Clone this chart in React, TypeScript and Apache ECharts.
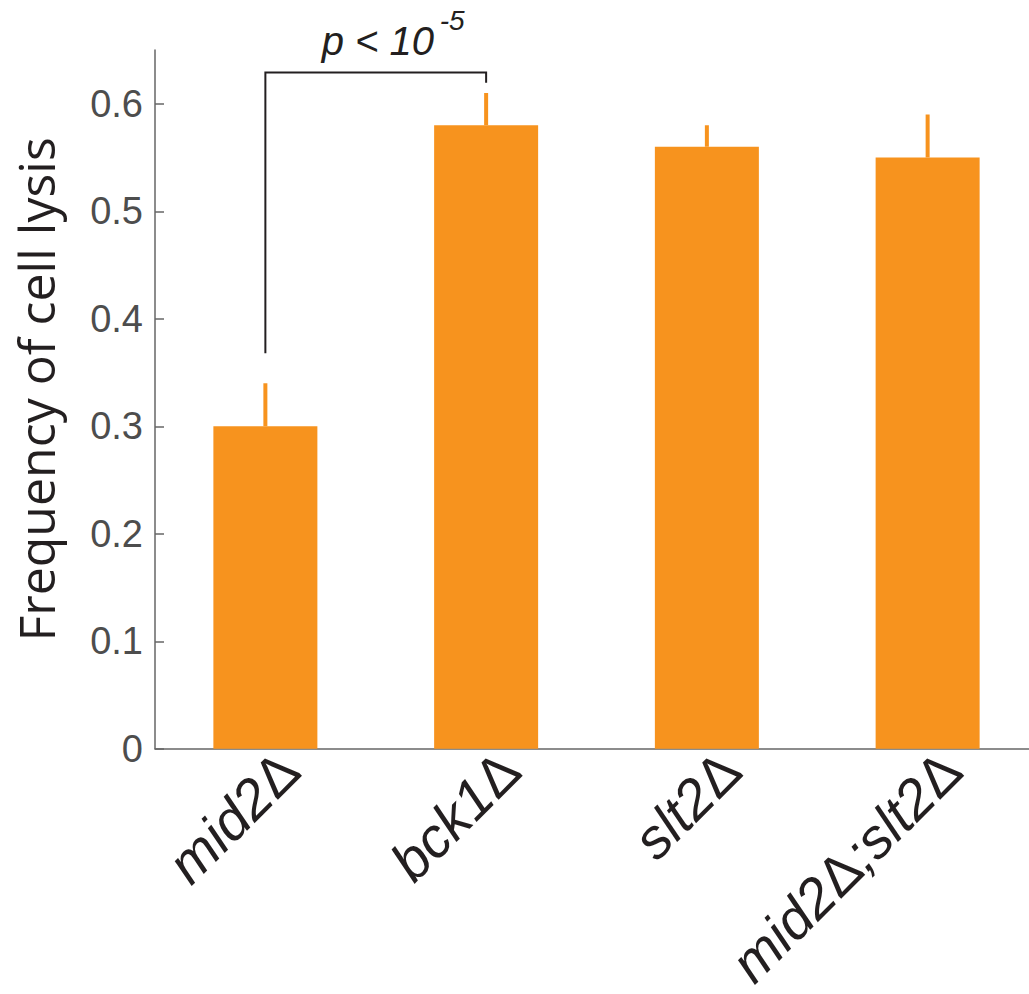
import React, { useEffect, useRef } from "react";
import * as echarts from "echarts";

const categories = ["mid2Δ", "bck1Δ", "slt2Δ", "mid2Δ;slt2Δ"];
const frequency = [0.30, 0.58, 0.56, 0.55];
const errorTop = [0.34, 0.61, 0.58, 0.59];
const yTicks = [0, 0.1, 0.2, 0.3, 0.4, 0.5, 0.6];
// bracket: [fromIndex, toIndex, leftLegBottom, top, rightLegBottom]
const bracket = [0, 1, 0.368, 0.629, 0.6195];
const pLabel = "p < 10";
const pExponent = "-5";

const ORANGE = "#F7931E";
const AXIS_GRAY = "#666666";
const INK = "#231f20";

const richLabel = (value: string) =>
  value
    .split(/(Δ)/)
    .filter((s) => s.length > 0)
    .map((s) => (s === "Δ" ? `{u|Δ}` : `{i|${s}}`))
    .join("");

export default function App() {
  const ref = useRef<HTMLDivElement>(null);
  useEffect(() => {
    if (!ref.current) return;
    const chart = echarts.init(ref.current, null, { renderer: "svg" });
    const labelFont = {
      fontSize: 56,
      fontFamily: "Liberation Sans",
      color: INK,
    };
    chart.setOption({
      animation: false,
      backgroundColor: "#ffffff",
      grid: { left: 155, right: 0, top: 50, bottom: 245, containLabel: false },
      xAxis: {
        type: "category",
        data: categories,
        axisLine: { show: true, lineStyle: { color: AXIS_GRAY, width: 1.5 } },
        axisTick: { show: false },
        axisLabel: {
          rotate: 45,
          margin: 36,
          interval: 0,
          padding: [0, -34, 0, 0],
          formatter: (v: string) => richLabel(v),
          rich: {
            i: { ...labelFont, fontStyle: "italic" },
            u: { ...labelFont, fontStyle: "normal" },
          },
        },
      },
      yAxis: {
        type: "value",
        min: 0,
        max: 0.65,
        interval: 0.1,
        splitLine: { show: false },
        axisLine: { show: true, lineStyle: { color: AXIS_GRAY, width: 1.5 } },
        axisTick: {
          show: true,
          inside: true,
          length: 9,
          customValues: yTicks,
          lineStyle: { color: AXIS_GRAY, width: 1.5 },
        },
        axisLabel: {
          customValues: yTicks,
          margin: 12,
          fontSize: 38,
          fontFamily: "Liberation Sans",
          color: "#4d4d4d",
          formatter: (v: number) => (v === 0 ? "0" : v.toFixed(1)),
        },
        name: "Frequency of cell lysis",
        nameLocation: "middle",
        nameRotate: 90,
        nameGap: 94,
        nameTextStyle: {
          fontSize: 50,
          fontFamily: "Open Sans",
          color: INK,
          padding: [0, 0, 0, 20],
        },
      },
      series: [
        {
          type: "bar",
          data: frequency,
          barWidth: 104,
          itemStyle: { color: ORANGE },
          z: 2,
        },
        {
          type: "custom",
          data: frequency.map((v, i) => [i, v, errorTop[i]]),
          encode: { x: 0, y: [1, 2] },
          z: 3,
          renderItem: (params: any, api: any) => {
            const p0 = api.coord([api.value(0), api.value(1)]);
            const p1 = api.coord([api.value(0), api.value(2)]);
            return {
              type: "line",
              shape: { x1: p0[0], y1: p0[1], x2: p1[0], y2: p1[1] },
              style: { stroke: ORANGE, lineWidth: 4 },
            };
          },
        },
        {
          type: "custom",
          data: [bracket],
          encode: { x: [0, 1], y: [2, 3, 4] },
          z: 4,
          renderItem: (params: any, api: any) => {
            const a = api.coord([api.value(0), api.value(2)]);
            const b = api.coord([api.value(0), api.value(3)]);
            const c = api.coord([api.value(1), api.value(3)]);
            const d = api.coord([api.value(1), api.value(4)]);
            const mid = (b[0] + c[0]) / 2;
            return {
              type: "group",
              children: [
                {
                  type: "polyline",
                  shape: { points: [a, b, c, d] },
                  style: { stroke: INK, lineWidth: 2, fill: "none" },
                },
                {
                  type: "text",
                  x: mid - 54,
                  y: b[1] - 12,
                  style: {
                    text: pLabel,
                    fontSize: 40,
                    fontStyle: "italic",
                    fontFamily: "Liberation Sans",
                    fill: INK,
                    textAlign: "left",
                    textVerticalAlign: "bottom",
                  },
                },
                {
                  type: "text",
                  x: mid + 64,
                  y: b[1] - 38,
                  style: {
                    text: pExponent,
                    fontSize: 28,
                    fontStyle: "italic",
                    fontFamily: "Liberation Sans",
                    fill: INK,
                    textAlign: "left",
                    textVerticalAlign: "bottom",
                  },
                },
              ],
            };
          },
        },
      ],
    });
    return () => chart.dispose();
  }, []);
  return (
    <div
      style={{
        position: "absolute",
        left: 0,
        top: 0,
        width: 1029,
        height: 994,
        overflow: "hidden",
      }}
    >
      <div ref={ref} style={{ width: 1038, height: 994 }} />
    </div>
  );
}
